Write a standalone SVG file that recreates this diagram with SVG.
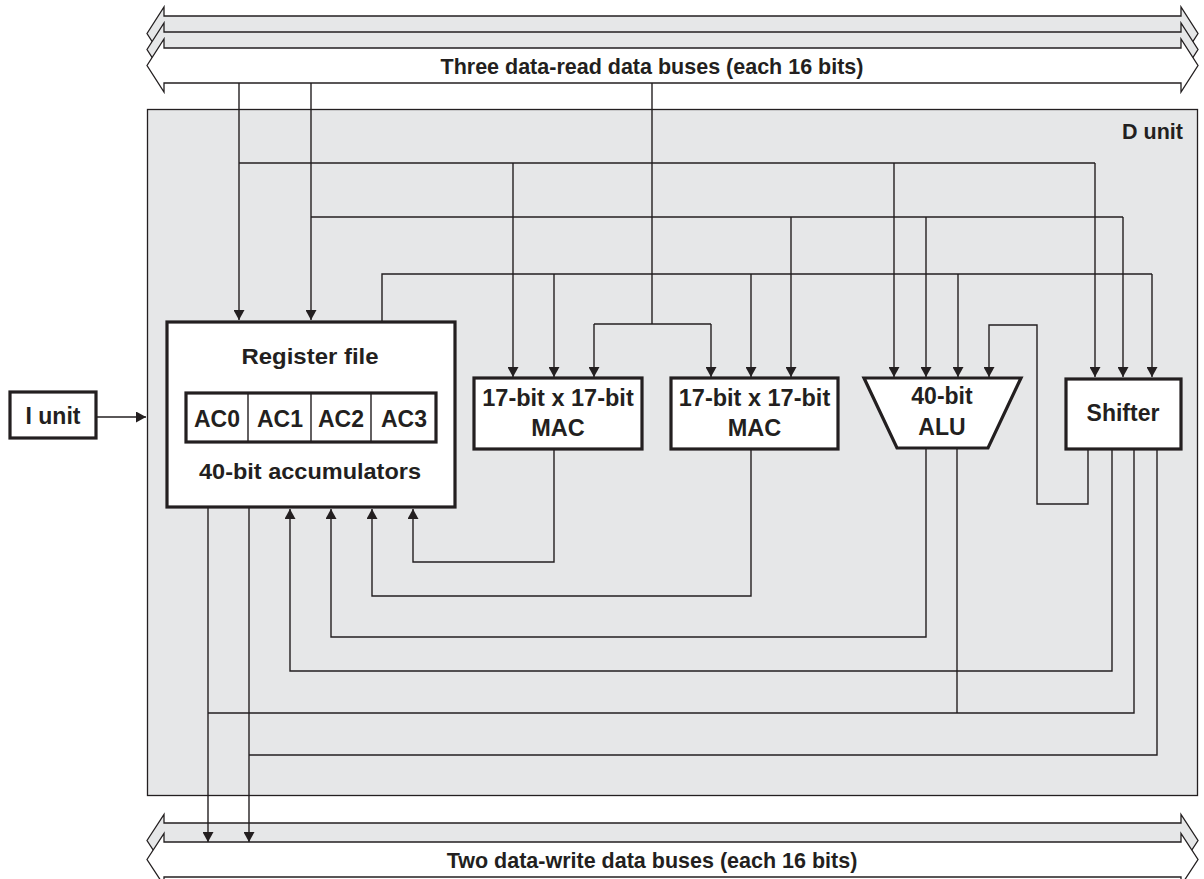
<svg xmlns="http://www.w3.org/2000/svg" width="1204" height="879" viewBox="0 0 1204 879">
<style>
.bus{stroke:#231f20;stroke-width:1.3;stroke-linejoin:miter}
.g{fill:#e6e7e8}
.w{fill:#ffffff}
.blk{fill:#ffffff;stroke:#231f20;stroke-width:3.2}
.ln{fill:none;stroke:#231f20;stroke-width:1.4}
.t{font-family:"Liberation Sans",Arial,sans-serif;font-weight:bold;fill:#231f20;text-anchor:middle}
</style>
<defs>
<marker id="ah" viewBox="0 0 10 11" refX="10" refY="5.5" markerWidth="10" markerHeight="11" markerUnits="userSpaceOnUse" orient="auto">
<path d="M0,0 L10,5.5 L0,11 Z" fill="#231f20"/>
</marker>
</defs>
<g id="read-buses">
<path class="bus g" d="M147,33.5 L164,7 L164,16 L1181,16 L1181,7 L1198,33.5 L1181,60 L1181,51 L164,51 L164,60 Z"/>
<path class="bus g" d="M147,49.5 L164,23 L164,32 L1181,32 L1181,23 L1198,49.5 L1181,76 L1181,67 L164,67 L164,76 Z"/>
<path class="bus w" d="M147,65.5 L164,39 L164,48 L1181,48 L1181,39 L1198,65.5 L1181,92 L1181,83 L164,83 L164,92 Z"/>
<text class="t" x="652" y="73.5" font-size="21.5">Three data-read data buses (each 16 bits)</text>
</g>
<g id="write-buses">
<path class="bus g" d="M147,840.5 L164,814.5 L164,823 L1181,823 L1181,814.5 L1198,840.5 L1181,866.5 L1181,858 L164,858 L164,866.5 Z"/>
<path class="bus w" d="M147,859.5 L164,833.5 L164,842 L1181,842 L1181,833.5 L1198,859.5 L1181,885.5 L1181,877 L164,877 L164,885.5 Z"/>
<text class="t" x="652" y="867.5" font-size="21.5">Two data-write data buses (each 16 bits)</text>
</g>
<g id="d-unit">
<rect x="147.5" y="109.5" width="1050" height="686" fill="#e6e7e8" stroke="#231f20" stroke-width="1.3"/>
<text class="t" x="1183" y="139" font-size="21.5" style="text-anchor:end">D unit</text>
</g>
<g id="connectors">
<path class="ln" d="M97,417 H146" marker-end="url(#ah)"/>
<path class="ln" d="M239,83 V320" marker-end="url(#ah)"/>
<path class="ln" d="M311,83 V320" marker-end="url(#ah)"/>
<path class="ln" d="M652,83 V324"/>
<path class="ln" d="M594,324 H711"/>
<path class="ln" d="M594,324 V377" marker-end="url(#ah)"/>
<path class="ln" d="M711,324 V377" marker-end="url(#ah)"/>
<path class="ln" d="M239,163 H1095"/>
<path class="ln" d="M513,163 V377" marker-end="url(#ah)"/>
<path class="ln" d="M894,163 V377" marker-end="url(#ah)"/>
<path class="ln" d="M1095,163 V377" marker-end="url(#ah)"/>
<path class="ln" d="M311,217 H1123"/>
<path class="ln" d="M791,217 V377" marker-end="url(#ah)"/>
<path class="ln" d="M926,217 V377" marker-end="url(#ah)"/>
<path class="ln" d="M1123,217 V377" marker-end="url(#ah)"/>
<path class="ln" d="M382,321 V274 H1152"/>
<path class="ln" d="M554,274 V377" marker-end="url(#ah)"/>
<path class="ln" d="M751,274 V377" marker-end="url(#ah)"/>
<path class="ln" d="M958,274 V377" marker-end="url(#ah)"/>
<path class="ln" d="M1152,274 V377" marker-end="url(#ah)"/>
<path class="ln" d="M1088,450 V504 H1037 V325 H989 V377" marker-end="url(#ah)"/>
<path class="ln" d="M554,450 V562 H413 V509" marker-end="url(#ah)"/>
<path class="ln" d="M751,450 V596 H372 V509" marker-end="url(#ah)"/>
<path class="ln" d="M926,449 V637 H331 V509" marker-end="url(#ah)"/>
<path class="ln" d="M1112,450 V671 H290 V509" marker-end="url(#ah)"/>
<path class="ln" d="M208,508 V842" marker-end="url(#ah)"/>
<path class="ln" d="M249,508 V842" marker-end="url(#ah)"/>
<path class="ln" d="M957,449 V713"/>
<path class="ln" d="M208,713 H1134 V450"/>
<path class="ln" d="M249,755 H1157 V450"/>
</g>
<g id="i-unit">
<rect class="blk" x="10" y="392" width="86" height="46"/>
<text class="t" x="53" y="424" font-size="23">I unit</text>
</g>
<g id="register-file">
<rect class="blk" x="167" y="322" width="288" height="185"/>
<text class="t" x="310" y="364" font-size="22.5" textLength="137" lengthAdjust="spacingAndGlyphs">Register file</text>
<rect class="blk" x="186" y="393" width="250" height="49"/>
<path class="ln" d="M248,393 V442 M311,393 V442 M371,393 V442"/>
<text class="t" x="217" y="426.5" font-size="23">AC0</text>
<text class="t" x="280" y="426.5" font-size="23">AC1</text>
<text class="t" x="341" y="426.5" font-size="23">AC2</text>
<text class="t" x="404" y="426.5" font-size="23">AC3</text>
<text class="t" x="310" y="479" font-size="22.5" textLength="222" lengthAdjust="spacingAndGlyphs">40-bit accumulators</text>
</g>
<g id="mac1">
<rect class="blk" x="474" y="378" width="168" height="71"/>
<text class="t" x="558" y="406" font-size="23.5">17-bit x 17-bit</text>
<text class="t" x="558" y="436" font-size="23.5">MAC</text>
</g>
<g id="mac2">
<rect class="blk" x="671" y="378" width="167" height="71"/>
<text class="t" x="754.5" y="406" font-size="23.5">17-bit x 17-bit</text>
<text class="t" x="754.5" y="436" font-size="23.5">MAC</text>
</g>
<g id="alu">
<path class="blk" d="M864,378 L1021,378 L988,448 L897,448 Z"/>
<text class="t" x="942" y="404" font-size="23">40-bit</text>
<text class="t" x="942" y="435" font-size="23">ALU</text>
</g>
<g id="shifter">
<rect class="blk" x="1066" y="379" width="115" height="70"/>
<text class="t" x="1123" y="421" font-size="23">Shifter</text>
</g>
</svg>
